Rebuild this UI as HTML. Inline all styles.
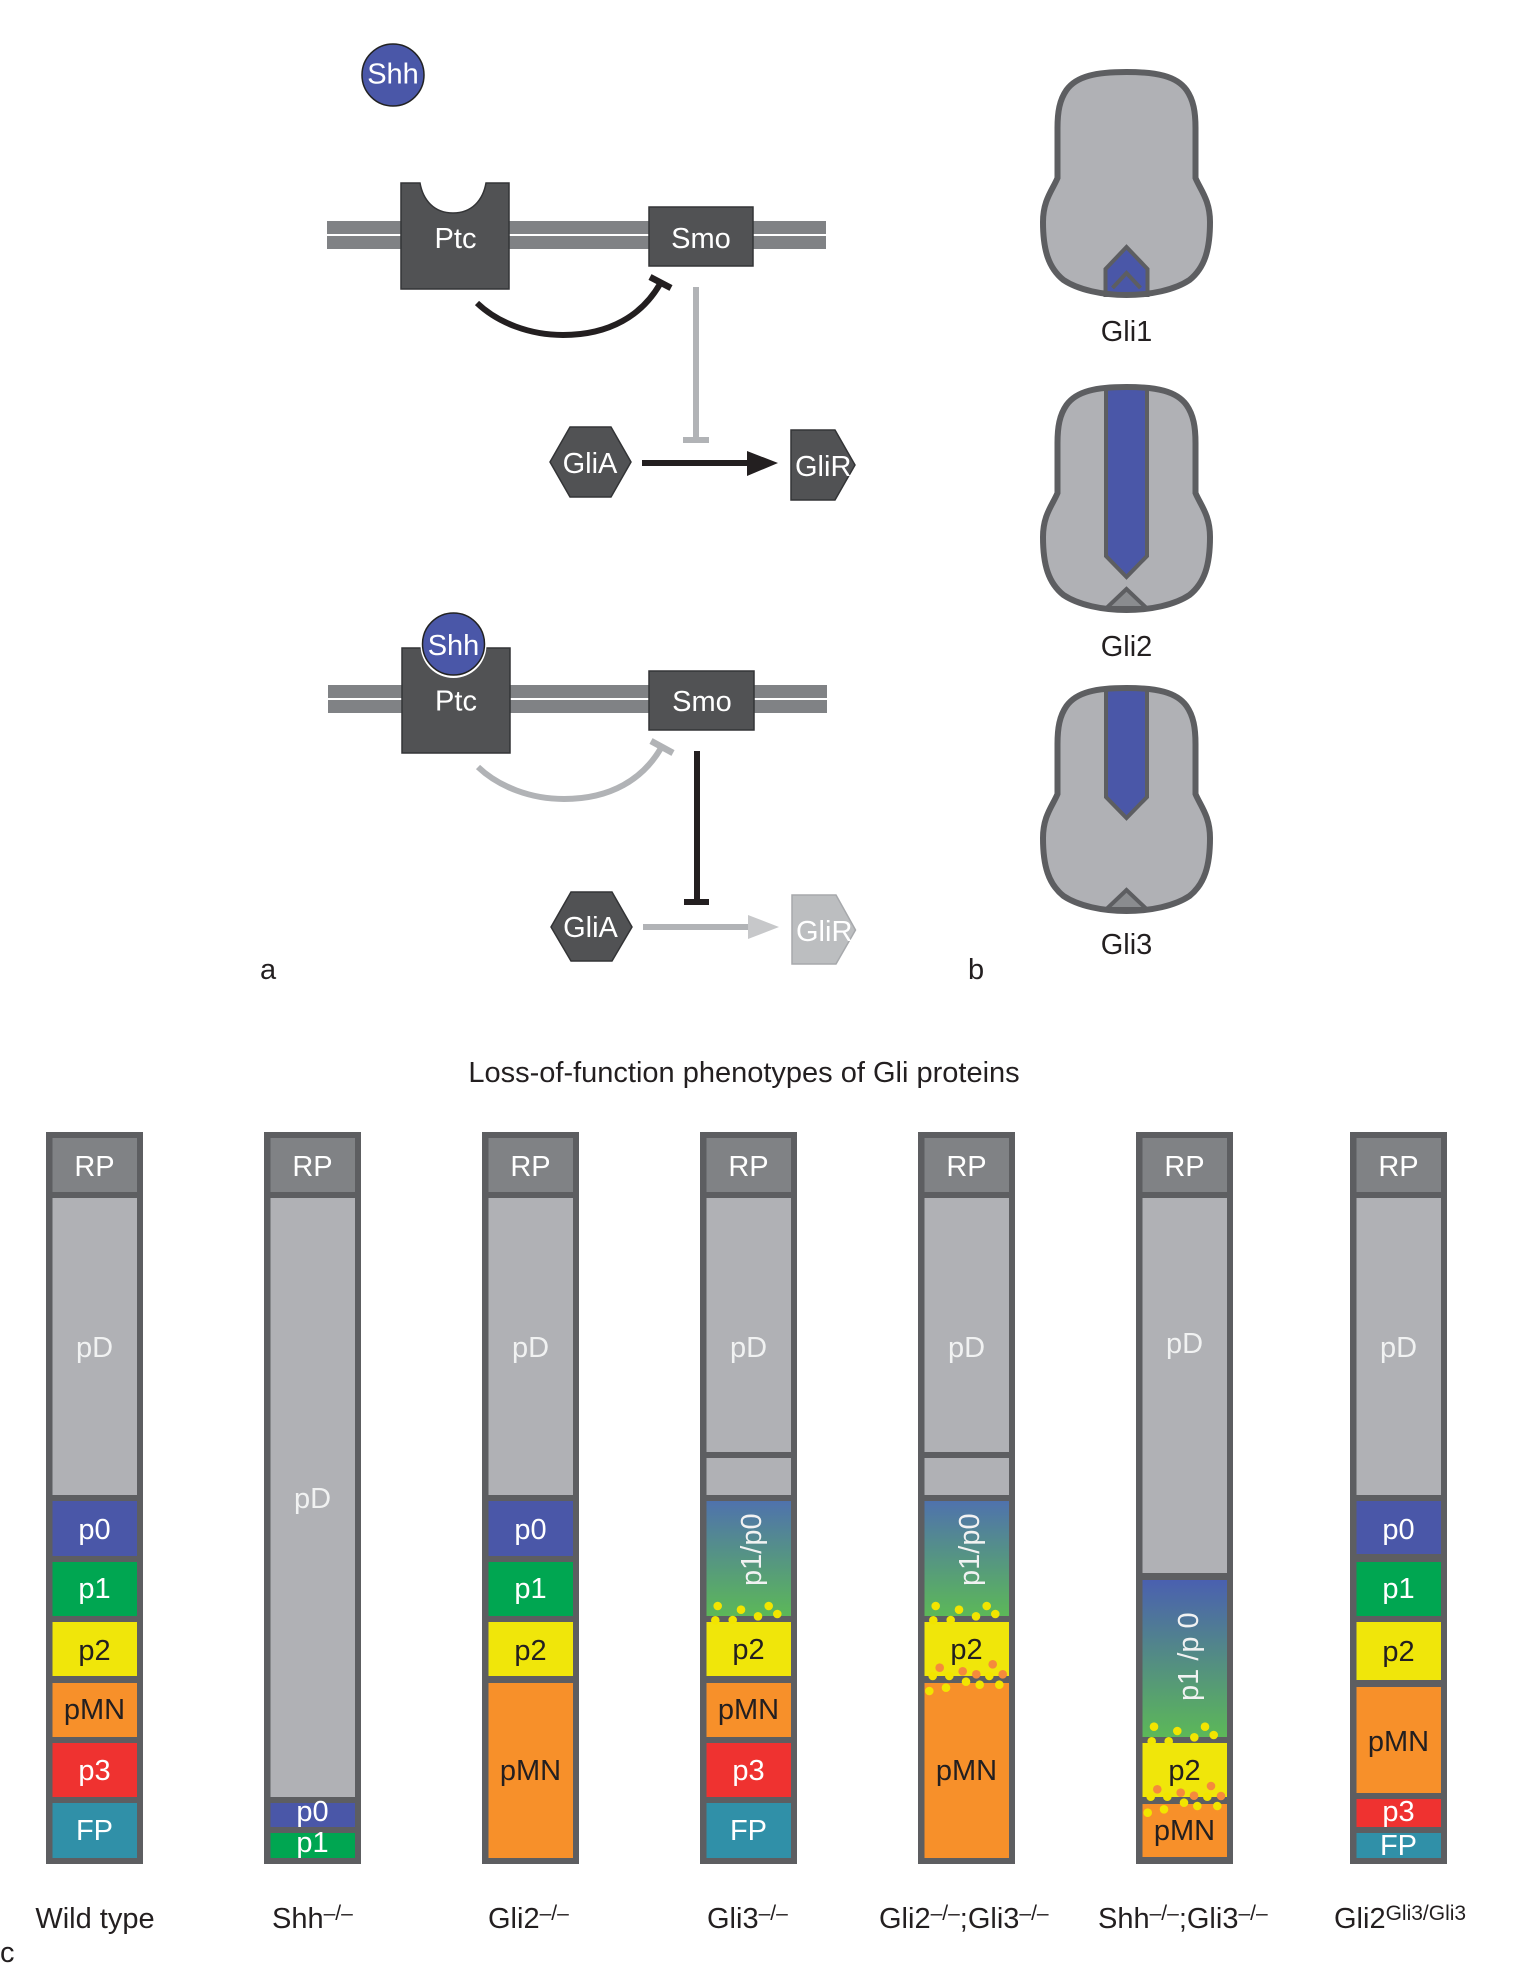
<!DOCTYPE html>
<html lang="en"><head><meta charset="utf-8"><title>Shh signalling and Gli phenotypes</title>
<style>html,body{margin:0;padding:0;background:#fff}svg{display:block}
text{font-family:"Liberation Sans",Arial,sans-serif;font-size:29px;fill:#231f20}
.m{text-anchor:middle}.w{fill:#fff}.l{fill:#f1f2f2}.s{font-size:21px}
.b{fill:#5d5e61}.rp{fill:#808285}.pd{fill:#b0b1b5}.p0{fill:#4a57a8}.p1{fill:#00a651}.p2{fill:#f0e60a}.pm{fill:#f7902a}.p3{fill:#ef3230}.fp{fill:#3090a8}
.y{fill:#f2e500}.o{fill:#f58a3c}
.box{fill:#515254;stroke:#333436;stroke-width:1.5}
.y circle,.o circle{r:4.3px}
</style></head><body>
<svg width="1525" height="1977" viewBox="0 0 1525 1977" xmlns="http://www.w3.org/2000/svg">
<defs>
<linearGradient id="g1" x1="0" y1="0" x2="0" y2="1"><stop offset="0" stop-color="#4f72ad"/><stop offset="1" stop-color="#5cb858"/></linearGradient>
<linearGradient id="g2" x1="0" y1="0" x2="0" y2="1"><stop offset="0" stop-color="#4a60b0"/><stop offset="1" stop-color="#5cb858"/></linearGradient>
</defs>
<rect width="1525" height="1977" fill="#fff"/>

<!-- Panel a, upper -->
<circle cx="393" cy="75" r="31" fill="#4a57a8" stroke="#222" stroke-width="1.5"/>
<text x="393" y="83.500" class="m w">Shh</text>
<rect x="327" y="221" width="499" height="13" fill="#808285"/><rect x="327" y="236" width="499" height="13" fill="#808285"/>
<path class="box" d="M401 183H420C423 200 434 213 453 213C472 213 483 200 486 183H509V289H401Z"/>
<text x="455.500" y="248" class="m w">Ptc</text>
<rect class="box" x="649" y="207" width="104" height="59"/>
<text x="701" y="248" class="m w">Smo</text>
<path d="M477 303C498 323 530 335 563 335C610 335 642 315 660 284" fill="none" stroke="#231f20" stroke-width="6"/>
<path d="M650 277L671 288" stroke="#231f20" stroke-width="6.500" fill="none"/>
<rect x="693" y="287" width="6" height="151" fill="#b1b3b6"/><rect x="683" y="437" width="26" height="6" fill="#b1b3b6"/>
<polygon class="box" points="550,462 570,427 611,427 631,462 611,497 570,497"/>
<text x="590" y="473" class="m w">GliA</text>
<rect x="642" y="460" width="106" height="6" fill="#231f20"/><polygon points="747,451 778,463 747,476" fill="#231f20"/>
<polygon class="box" points="791,430 835,430 855,465 835,500 791,500"/>
<text x="795" y="476" class="w">GliR</text>

<!-- Panel a, lower -->
<rect x="328" y="685" width="499" height="13" fill="#808285"/><rect x="328" y="700" width="499" height="13" fill="#808285"/>
<rect class="box" x="402" y="648" width="108" height="105"/>
<circle cx="453.500" cy="645" r="33" fill="#fff"/>
<circle cx="453.500" cy="644" r="31" fill="#4a57a8" stroke="#222" stroke-width="1.500"/>
<text x="453.500" y="655" class="m w">Shh</text>
<text x="456" y="710.500" class="m w">Ptc</text>
<rect class="box" x="649" y="671" width="105" height="59"/>
<text x="702" y="711" class="m w">Smo</text>
<path d="M478 767C499 787 531 799 564 799C611 799 643 779 661 748" fill="none" stroke="#b1b3b6" stroke-width="6"/>
<path d="M651 741L673 753" stroke="#b1b3b6" stroke-width="6.500" fill="none"/>
<rect x="694" y="751" width="6" height="149" fill="#231f20"/><rect x="684" y="899" width="25" height="6" fill="#231f20"/>
<polygon class="box" points="551,927 571,892 612,892 632,927 612,961 571,961"/>
<text x="590.500" y="937" class="m w">GliA</text>
<rect x="643" y="924" width="106" height="6" fill="#b1b3b6"/><polygon points="748,915 779,927 748,939" fill="#c7c8ca"/>
<polygon points="792,895 836,895 855.500,930 836,964 792,964" fill="#bcbec0" stroke="#a7a9ac" stroke-width="1.500"/>
<text x="796" y="941" class="w">GliR</text>
<text x="260" y="979">a</text>
<text x="968" y="979">b</text>

<!-- Panel b -->
<g transform="translate(1126.500,0)">
<path d="M0 72C30 72 50 76 60 90C67 100 69 112 69 128L69 178C74 190 83.500 200 83.500 222C83.500 250 78 268 63 280C48 290 24 295 0 295C-24 295 -48 290 -63 280C-78 268 -83.500 250 -83.500 222C-83.500 200 -74 190 -69 178L-69 128C-69 112 -67 100 -60 90C-50 76 -30 72 0 72Z" fill="#b0b1b5"/>
<polygon points="0,247 21,269 21,295 -21,295 -21,269" fill="#4a57a8" stroke="#5d5e61" stroke-width="4"/>
<path d="M-14 288L0 273L14 288" fill="none" stroke="#5d5e61" stroke-width="4"/>
<path d="M0 72C30 72 50 76 60 90C67 100 69 112 69 128L69 178C74 190 83.500 200 83.500 222C83.500 250 78 268 63 280C48 290 24 295 0 295C-24 295 -48 290 -63 280C-78 268 -83.500 250 -83.500 222C-83.500 200 -74 190 -69 178L-69 128C-69 112 -67 100 -60 90C-50 76 -30 72 0 72Z" fill="none" stroke="#5d5e61" stroke-width="6"/>
<text x="0" y="341" class="m">Gli1</text>
</g>
<g transform="translate(1126.500,315)">
<path d="M0 72C30 72 50 76 60 90C67 100 69 112 69 128L69 178C74 190 83.500 200 83.500 222C83.500 250 78 268 63 280C48 290 24 295 0 295C-24 295 -48 290 -63 280C-78 268 -83.500 250 -83.500 222C-83.500 200 -74 190 -69 178L-69 128C-69 112 -67 100 -60 90C-50 76 -30 72 0 72Z" fill="#b0b1b5"/>
<polygon points="-20.500,73 20.500,73 20.500,241 0,262 -20.500,241" fill="#4a57a8" stroke="#5d5e61" stroke-width="4"/>
<polygon points="0,274 -20,293 20,293" fill="#8a8c8f" stroke="#5d5e61" stroke-width="4"/>
<path d="M0 72C30 72 50 76 60 90C67 100 69 112 69 128L69 178C74 190 83.500 200 83.500 222C83.500 250 78 268 63 280C48 290 24 295 0 295C-24 295 -48 290 -63 280C-78 268 -83.500 250 -83.500 222C-83.500 200 -74 190 -69 178L-69 128C-69 112 -67 100 -60 90C-50 76 -30 72 0 72Z" fill="none" stroke="#5d5e61" stroke-width="6"/>
<text x="0" y="341" class="m">Gli2</text>
</g>
<g transform="translate(1126.500,616)">
<path d="M0 72C30 72 50 76 60 90C67 100 69 112 69 128L69 178C74 190 83.500 200 83.500 222C83.500 250 78 268 63 280C48 290 24 295 0 295C-24 295 -48 290 -63 280C-78 268 -83.500 250 -83.500 222C-83.500 200 -74 190 -69 178L-69 128C-69 112 -67 100 -60 90C-50 76 -30 72 0 72Z" fill="#b0b1b5"/>
<polygon points="-20.500,73 20.500,73 20.500,181 0,202 -20.500,181" fill="#4a57a8" stroke="#5d5e61" stroke-width="4"/>
<polygon points="0,274 -20,293 20,293" fill="#8a8c8f" stroke="#5d5e61" stroke-width="4"/>
<path d="M0 72C30 72 50 76 60 90C67 100 69 112 69 128L69 178C74 190 83.500 200 83.500 222C83.500 250 78 268 63 280C48 290 24 295 0 295C-24 295 -48 290 -63 280C-78 268 -83.500 250 -83.500 222C-83.500 200 -74 190 -69 178L-69 128C-69 112 -67 100 -60 90C-50 76 -30 72 0 72Z" fill="none" stroke="#5d5e61" stroke-width="6"/>
<text x="0" y="338" class="m">Gli3</text>
</g>

<!-- Panel c -->
<text x="744" y="1082" class="m">Loss-of-function phenotypes of Gli proteins</text>

<!-- Column 1 -->
<g transform="translate(46,0)">
<rect class="b" y="1132" width="97" height="732"/>
<rect class="rp" x="6.500" y="1138" width="84.500" height="54"/><text x="48.500" y="1176" class="m w">RP</text>
<rect class="pd" x="6.500" y="1198" width="84.500" height="297"/><text x="48.500" y="1357" class="m l">pD</text>
<rect class="p0" x="6.500" y="1501" width="84.500" height="55"/><text x="48.500" y="1539" class="m w">p0</text>
<rect class="p1" x="6.500" y="1562" width="84.500" height="54"/><text x="48.500" y="1598" class="m w">p1</text>
<rect class="p2" x="6.500" y="1622" width="84.500" height="54"/><text x="48.500" y="1660" class="m">p2</text>
<rect class="pm" x="6.500" y="1683" width="84.500" height="54"/><text x="48.500" y="1719" class="m">pMN</text>
<rect class="p3" x="6.500" y="1743" width="84.500" height="54"/><text x="48.500" y="1780" class="m w">p3</text>
<rect class="fp" x="6.500" y="1803" width="84.500" height="55"/><text x="48.500" y="1840" class="m w">FP</text>
</g>
<!-- Column 2 -->
<g transform="translate(264,0)">
<rect class="b" y="1132" width="97" height="732"/>
<rect class="rp" x="6.500" y="1138" width="84.500" height="54"/><text x="48.500" y="1176" class="m w">RP</text>
<rect class="pd" x="6.500" y="1198" width="84.500" height="599"/><text x="48.500" y="1508" class="m l">pD</text>
<rect class="p0" x="6.500" y="1803" width="84.500" height="24"/><text x="48.500" y="1821" class="m w">p0</text>
<rect class="p1" x="6.500" y="1833" width="84.500" height="25"/><text x="48.500" y="1852" class="m w">p1</text>
</g>
<!-- Column 3 -->
<g transform="translate(482,0)">
<rect class="b" y="1132" width="97" height="732"/>
<rect class="rp" x="6.500" y="1138" width="84.500" height="54"/><text x="48.500" y="1176" class="m w">RP</text>
<rect class="pd" x="6.500" y="1198" width="84.500" height="297"/><text x="48.500" y="1357" class="m l">pD</text>
<rect class="p0" x="6.500" y="1501" width="84.500" height="55"/><text x="48.500" y="1539" class="m w">p0</text>
<rect class="p1" x="6.500" y="1562" width="84.500" height="54"/><text x="48.500" y="1598" class="m w">p1</text>
<rect class="p2" x="6.500" y="1622" width="84.500" height="54"/><text x="48.500" y="1660" class="m">p2</text>
<rect class="pm" x="6.500" y="1683" width="84.500" height="175"/><text x="48.500" y="1780" class="m">pMN</text>
</g>
<!-- Column 4 -->
<g transform="translate(700,0)">
<rect class="b" y="1132" width="97" height="732"/>
<rect class="rp" x="6.500" y="1138" width="84.500" height="54"/><text x="48.500" y="1176" class="m w">RP</text>
<rect class="pd" x="6.500" y="1198" width="84.500" height="254"/><text x="48.500" y="1357" class="m l">pD</text>
<rect class="pd" x="6.500" y="1458" width="84.500" height="37"/>
<rect fill="url(#g1)" x="6.500" y="1501" width="84.500" height="115"/>
<text transform="translate(61,1586) rotate(-90)" class="l">p1/p0</text>
<rect class="p2" x="6.500" y="1622" width="84.500" height="54"/><text x="48.500" y="1659" class="m">p2</text>
<rect class="pm" x="6.500" y="1683" width="84.500" height="54"/><text x="48.500" y="1719" class="m">pMN</text>
<rect class="p3" x="6.500" y="1743" width="84.500" height="54"/><text x="48.500" y="1780" class="m w">p3</text>
<rect class="fp" x="6.500" y="1803" width="84.500" height="55"/><text x="48.500" y="1840" class="m w">FP</text>
<g class="y"><circle cx="17.700" cy="1606" r="4.3"/><circle cx="41" cy="1609.700" r="4.3"/><circle cx="68.700" cy="1606" r="4.3"/><circle cx="77.300" cy="1614" r="4.3"/><circle cx="58" cy="1616.300" r="4.3"/><circle cx="15.300" cy="1620.300" r="4.3"/><circle cx="32.700" cy="1620" r="4.3"/></g>
</g>
<!-- Column 5 -->
<g transform="translate(918,0)">
<rect class="b" y="1132" width="97" height="732"/>
<rect class="rp" x="6.500" y="1138" width="84.500" height="54"/><text x="48.500" y="1176" class="m w">RP</text>
<rect class="pd" x="6.500" y="1198" width="84.500" height="254"/><text x="48.500" y="1357" class="m l">pD</text>
<rect class="pd" x="6.500" y="1458" width="84.500" height="37"/>
<rect fill="url(#g1)" x="6.500" y="1501" width="84.500" height="115"/>
<text transform="translate(61,1586) rotate(-90)" class="l">p1/p0</text>
<rect class="p2" x="6.500" y="1622" width="84.500" height="54"/><text x="48.500" y="1659" class="m">p2</text>
<rect class="pm" x="6.500" y="1683" width="84.500" height="175"/><text x="48.500" y="1780" class="m">pMN</text>
<g class="y"><circle cx="17.700" cy="1606" r="4.3"/><circle cx="41" cy="1609.700" r="4.3"/><circle cx="68.700" cy="1606" r="4.3"/><circle cx="77.300" cy="1614" r="4.3"/><circle cx="58" cy="1616.300" r="4.3"/><circle cx="15.300" cy="1620.300" r="4.3"/><circle cx="32.700" cy="1620" r="4.3"/>
<circle cx="14.700" cy="1676" r="4.3"/><circle cx="31.300" cy="1676" r="4.3"/><circle cx="71.300" cy="1676" r="4.3"/><circle cx="48" cy="1681.700" r="4.3"/><circle cx="61.700" cy="1684.700" r="4.3"/><circle cx="81.300" cy="1684.700" r="4.3"/><circle cx="28" cy="1687.700" r="4.3"/><circle cx="11.300" cy="1691" r="4.3"/></g>
<g class="o"><circle cx="21.700" cy="1667.700" r="4.3"/><circle cx="44.700" cy="1671.300" r="4.3"/><circle cx="58.300" cy="1674.300" r="4.3"/><circle cx="74.700" cy="1664.300" r="4.3"/><circle cx="84.700" cy="1674.300" r="4.3"/></g>
</g>
<!-- Column 6 -->
<g transform="translate(1136,0)">
<rect class="b" y="1132" width="97" height="732"/>
<rect class="rp" x="6.500" y="1138" width="84.500" height="54"/><text x="48.500" y="1176" class="m w">RP</text>
<rect class="pd" x="6.500" y="1198" width="84.500" height="375"/><text x="48.500" y="1353" class="m l">pD</text>
<rect fill="url(#g2)" x="6.500" y="1580" width="84.500" height="157"/>
<text transform="translate(62,1701) rotate(-90)" class="l">p1 /p 0</text>
<rect class="p2" x="6.500" y="1743" width="84.500" height="54"/><text x="48.500" y="1780" class="m">p2</text>
<rect class="pm" x="6.500" y="1804" width="84.500" height="53"/><text x="48.500" y="1840" class="m">pMN</text>
<g class="y"><circle cx="18" cy="1726.700" r="4.3"/><circle cx="41.300" cy="1731" r="4.3"/><circle cx="69" cy="1726.700" r="4.3"/><circle cx="77.700" cy="1735" r="4.3"/><circle cx="58.300" cy="1737.300" r="4.3"/><circle cx="15.700" cy="1741.300" r="4.3"/><circle cx="32.700" cy="1741.300" r="4.3"/>
<circle cx="14.700" cy="1796.700" r="4.3"/><circle cx="31.300" cy="1796.700" r="4.3"/><circle cx="71.300" cy="1796.700" r="4.3"/><circle cx="48" cy="1802.700" r="4.3"/><circle cx="61.300" cy="1806" r="4.3"/><circle cx="81.300" cy="1806" r="4.3"/><circle cx="28" cy="1809.300" r="4.3"/><circle cx="11.700" cy="1812.700" r="4.3"/></g>
<g class="o"><circle cx="21.300" cy="1789.300" r="4.3"/><circle cx="44.700" cy="1792.700" r="4.3"/><circle cx="58" cy="1795.700" r="4.3"/><circle cx="75" cy="1786" r="4.3"/><circle cx="85" cy="1796" r="4.3"/></g>
</g>
<!-- Column 7 -->
<g transform="translate(1350,0)">
<rect class="b" y="1132" width="97" height="732"/>
<rect class="rp" x="6.500" y="1138" width="84.500" height="54"/><text x="48.500" y="1176" class="m w">RP</text>
<rect class="pd" x="6.500" y="1198" width="84.500" height="297"/><text x="48.500" y="1357" class="m l">pD</text>
<rect class="p0" x="6.500" y="1501" width="84.500" height="53"/><text x="48.500" y="1539" class="m w">p0</text>
<rect class="p1" x="6.500" y="1562" width="84.500" height="54"/><text x="48.500" y="1598" class="m w">p1</text>
<rect class="p2" x="6.500" y="1622" width="84.500" height="58"/><text x="48.500" y="1661" class="m">p2</text>
<rect class="pm" x="6.500" y="1687" width="84.500" height="106"/><text x="48.500" y="1751" class="m">pMN</text>
<rect class="p3" x="6.500" y="1799" width="84.500" height="28"/><text x="48.500" y="1821" class="m w">p3</text>
<rect class="fp" x="6.500" y="1833" width="84.500" height="25"/><text x="48.500" y="1855" class="m w">FP</text>
</g>

<text x="95" y="1928" class="m">Wild type</text>
<text x="272" y="1928">Shh<tspan class="s" dy="-8">–/–</tspan></text>
<text x="488" y="1928">Gli2<tspan class="s" dy="-8">–/–</tspan></text>
<text x="707" y="1928">Gli3<tspan class="s" dy="-8">–/–</tspan></text>
<text x="879" y="1928">Gli2<tspan class="s" dy="-8">–/–</tspan><tspan dy="8">;Gli3</tspan><tspan class="s" dy="-8">–/–</tspan></text>
<text x="1098" y="1928">Shh<tspan class="s" dy="-8">–/–</tspan><tspan dy="8">;Gli3</tspan><tspan class="s" dy="-8">–/–</tspan></text>
<text x="1334" y="1928">Gli2<tspan class="s" dy="-8">Gli3/Gli3</tspan></text>
<text x="0" y="1962">c</text>
</svg>
</body></html>
